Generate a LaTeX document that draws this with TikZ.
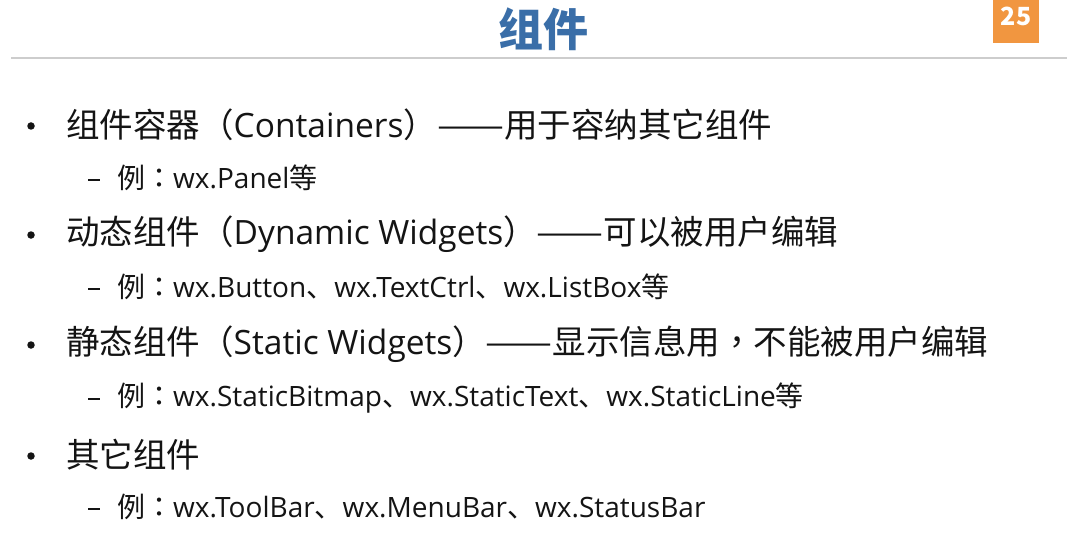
\documentclass[tikz,border=0pt]{standalone}
\usepackage{fontspec}
\usepackage{graphicx}
\setmainfont{Noto Sans CJK SC}
\newfontfamily\latinfont{Open Sans}
\newfontfamily\punctfont{Noto Sans CJK TC}
\newcommand{\eng}[1]{{\latinfont #1}}
\newcommand{\pn}[1]{{\punctfont #1}}
\newcommand{\longdash}{\resizebox{2em}{\height}{——}}
\usepackage{xcolor}
\usetikzlibrary{positioning}
\definecolor{titleblue}{RGB}{58, 110, 168}
\definecolor{pageorange}{RGB}{241, 150, 64}
\definecolor{rulegray}{RGB}{205, 205, 205}
\definecolor{textblack}{RGB}{20, 20, 20}
\tikzstyle{item} = [
    anchor=west,
    inner sep=0pt,
    text=textblack,
    font=\fontsize{33.5}{38}\selectfont
]
\tikzstyle{subitem} = [
    anchor=west,
    inner sep=0pt,
    text=textblack,
    font=\fontsize{28}{32}\selectfont
]
\tikzstyle{bulletmark} = [
    circle,
    fill=textblack,
    minimum size=7.5pt,
    inner sep=0pt
]
\tikzstyle{submark} = [
    rectangle,
    fill=textblack,
    minimum width=12pt,
    minimum height=2.8pt,
    inner sep=0pt
]

\begin{document}
\begin{tikzpicture}[x=1pt, y=-1pt]
        \useasboundingbox[fill=white] (0,0) rectangle (1067,540);

        % Title and page number
        \node[text=titleblue, font=\fontsize{45}{50}\selectfont\bfseries] (title) at (543,29) {组件};
        \node[fill=pageorange, minimum width=46pt, minimum height=43pt, inner sep=0pt] (page) at (1016,21.5) {};
        \node[text=white, font=\fontsize{25}{28}\selectfont\bfseries, inner sep=0pt] (pagenum) at (1016,16) {25};
        \coordinate (ruleL) at (11,58);
        \coordinate (ruleR) at (1067,58);
        \draw[rulegray, line width=2.6pt] (ruleL) -- (ruleR);

        % Containers
        \node[bulletmark] (dot1) at (31,126) {};
        \node[item] (item1) at (66,125) {组件容器\pn{（}\eng{Containers}\pn{）}\longdash 用于容纳其它组件};
        \node[submark] (dash1) at (94,180) {};
        \node[subitem] (sub1) at (117,178) {例\pn{：}\eng{wx.Panel}等};

        % Dynamic widgets
        \node[bulletmark] (dot2) at (31,235) {};
        \node[item] (item2) at (66,234) {动态组件\pn{（}\eng{Dynamic Widgets}\pn{）}\longdash 可以被用户编辑};
        \node[submark] (dash2) at (94,289) {};
        \node[subitem] (sub2) at (117,287) {例\pn{：}\eng{wx.Button}、\eng{wx.TextCtrl}、\eng{wx.ListBox}等};

        % Static widgets
        \node[bulletmark] (dot3) at (31,345) {};
        \node[item] (item3) at (66,344) {静态组件\pn{（}\eng{Static Widgets}\pn{）}\longdash 显示信息用\pn{，}不能被用户编辑};
        \node[submark] (dash3) at (94,399) {};
        \node[subitem] (sub3) at (117,398) {例\pn{：}\eng{wx.StaticBitmap}、\eng{wx.StaticText}、\eng{wx.StaticLine}等};

        % Others
        \node[bulletmark] (dot4) at (31,456) {};
        \node[item] (item4) at (66,455) {其它组件};
        \node[submark] (dash4) at (94,509) {};
        \node[subitem] (sub4) at (117,507) {例\pn{：}\eng{wx.ToolBar}、\eng{wx.MenuBar}、\eng{wx.StatusBar}};
    \end{tikzpicture}
\end{document}
